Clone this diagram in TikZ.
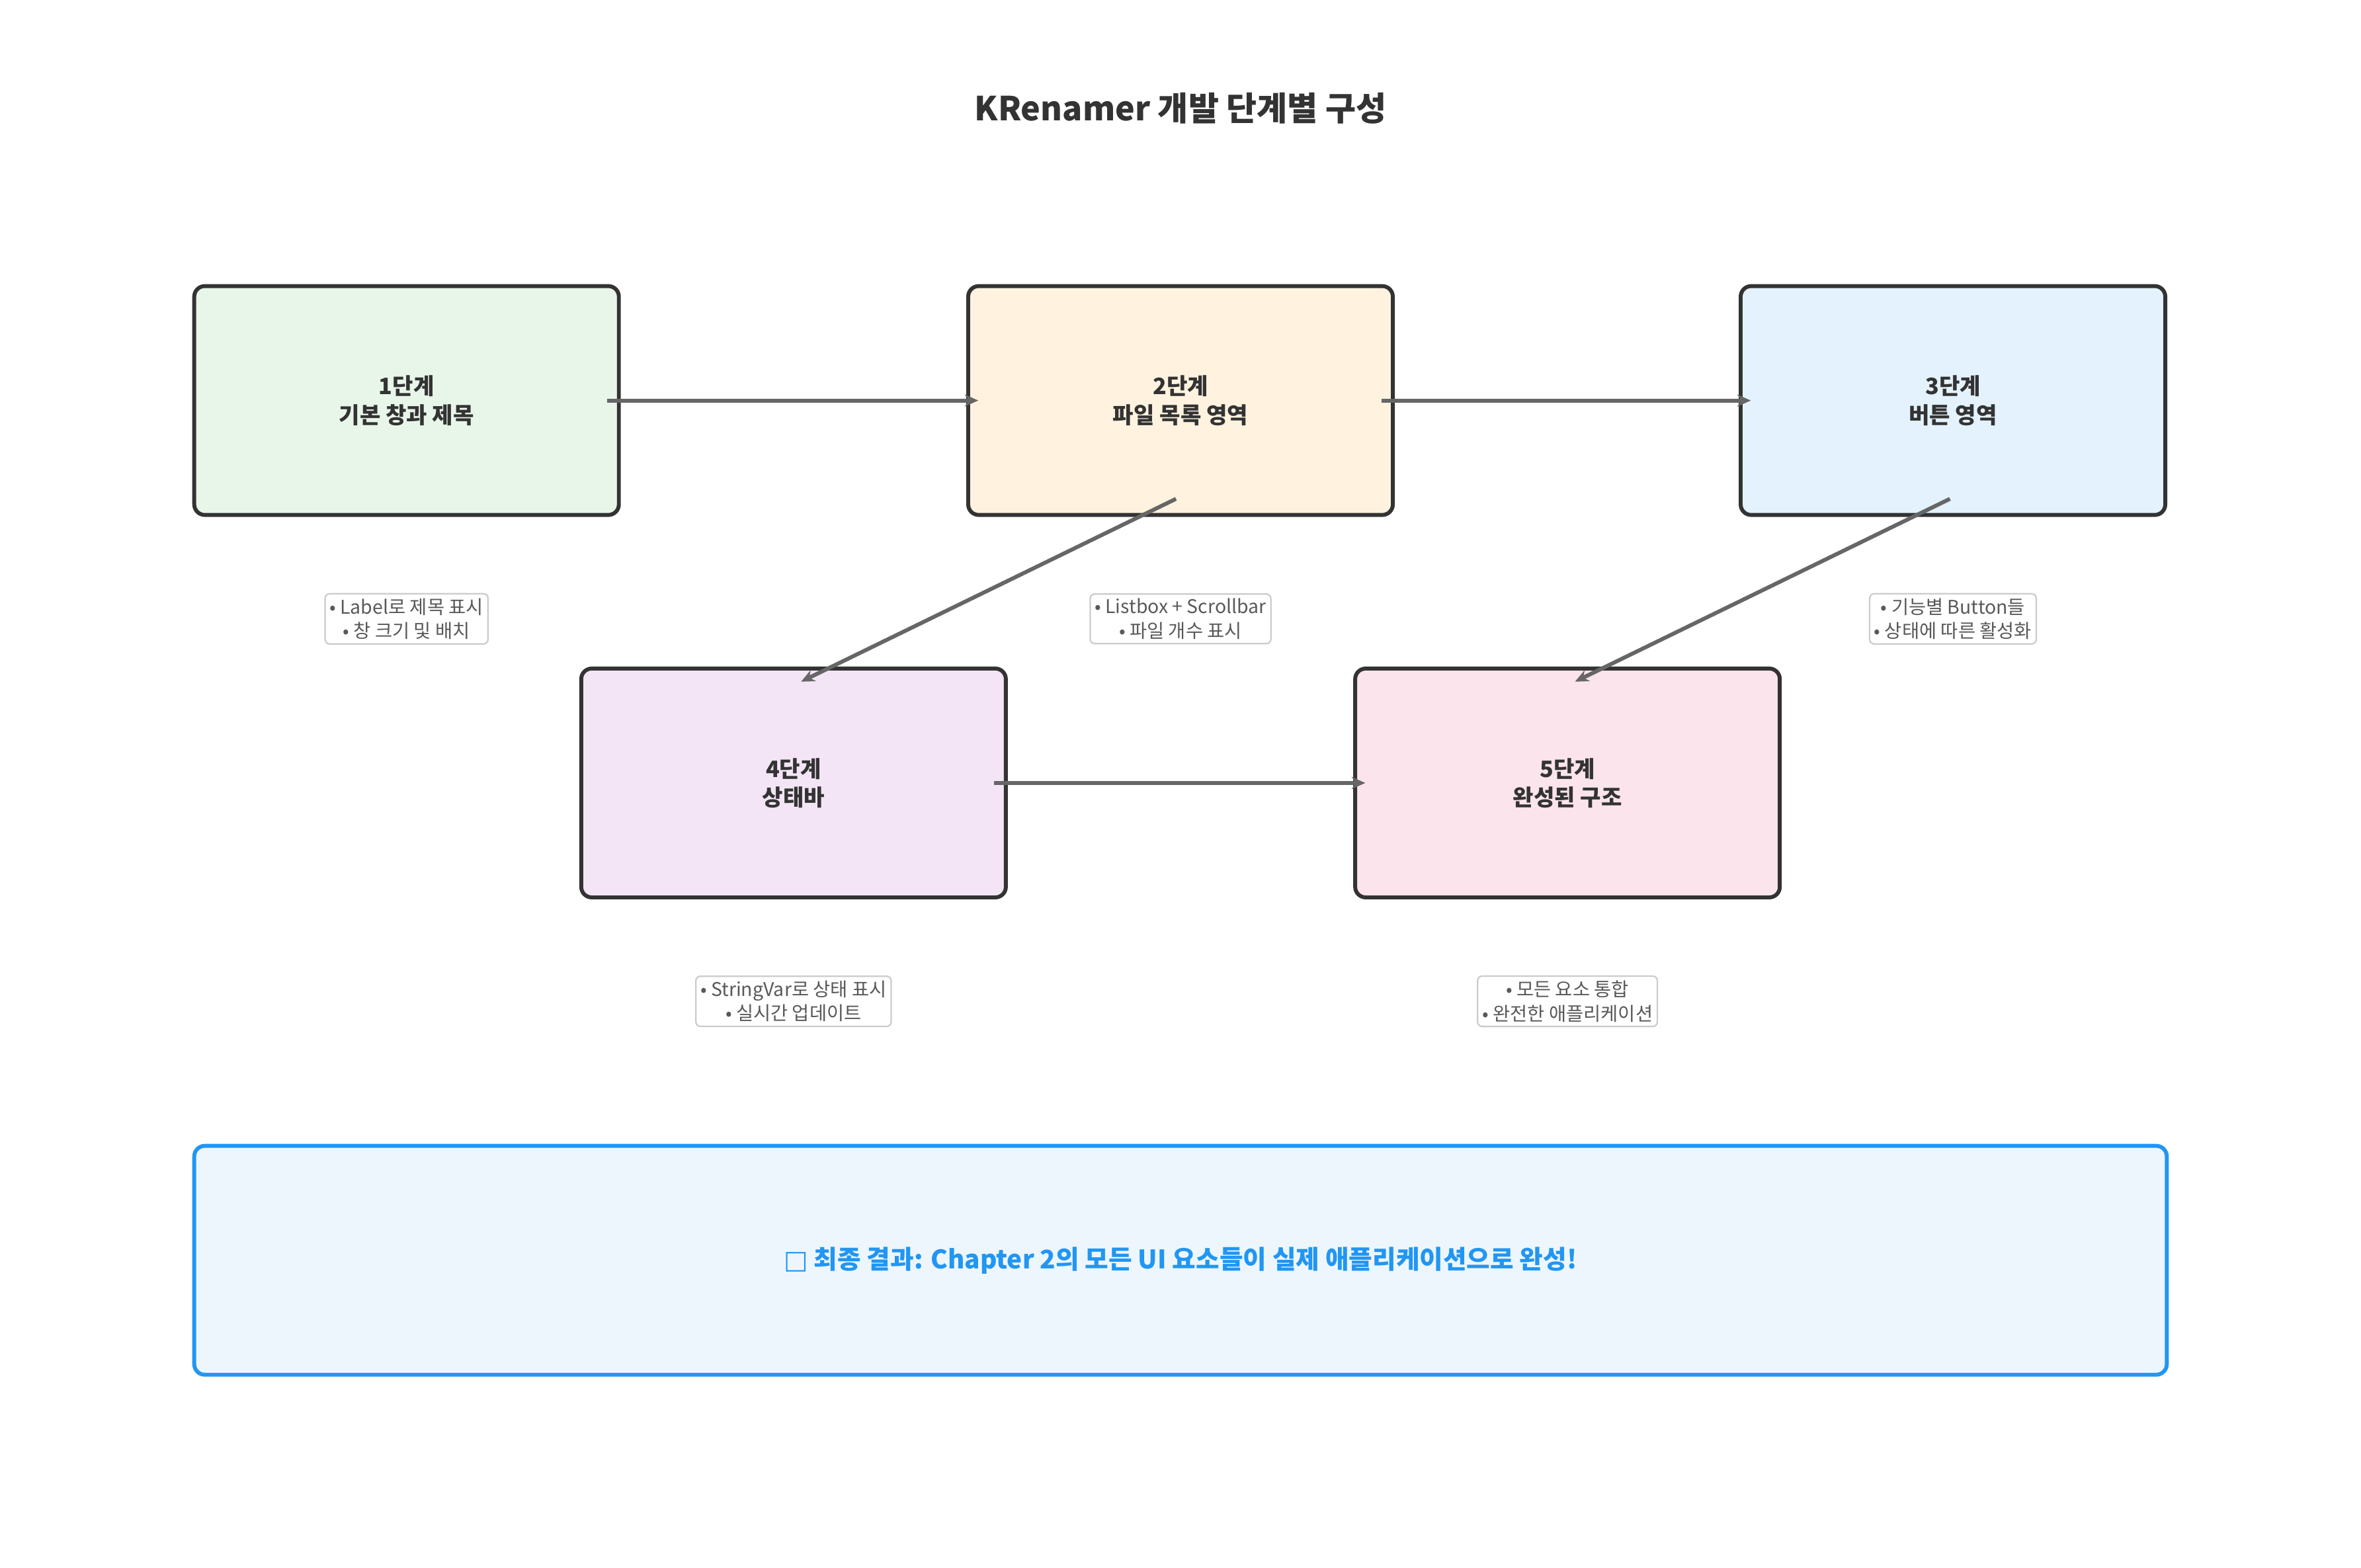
\documentclass[tikz,border=0pt]{standalone}
\usepackage{fontspec}
\setmainfont{Noto Sans CJK KR}
\newfontfamily\djv{DejaVu Sans}
\usetikzlibrary{arrows.meta}
\definecolor{dk}{HTML}{333333}
\definecolor{ar}{HTML}{666666}
\definecolor{bl}{HTML}{2196F3}
\definecolor{f1}{HTML}{E8F5E9}
\definecolor{f2}{HTML}{FFF3E0}
\definecolor{f3}{HTML}{E3F2FD}
\definecolor{f4}{HTML}{F3E5F5}
\definecolor{f5}{HTML}{FCE4EC}
\definecolor{f6}{HTML}{EEF6FD}
\tikzset{
 stage/.style={draw=dk,line width=2.6pt,rounded corners=7pt,minimum width=282pt,minimum height=152pt,align=center,font=\fontsize{15}{19}\selectfont\bfseries,text=dk},
 note/.style={draw=black!20,line width=1pt,rounded corners=3pt,fill=white,align=center,font=\fontsize{12.5}{16}\selectfont,text=black!65,inner sep=3pt},
 conn/.style={draw=ar,line width=2.6pt,-{Stealth[length=9pt,width=8pt]}}
}
\begin{document}
\begin{tikzpicture}[x=1pt,y=-1pt]
\useasboundingbox[fill=white] (0,0) rectangle (1568,1041);
\node[font=\fontsize{22}{26}\selectfont\bfseries,text=dk] (title) at (784,72) {KRenamer 개발 단계별 구성};
\node[stage,fill=f1] (s1) at (270,266) {1단계\\기본 창과 제목};
\node[stage,fill=f2] (s2) at (784,266) {2단계\\파일 목록 영역};
\node[stage,fill=f3] (s3) at (1297,266) {3단계\\버튼 영역};
\node[stage,fill=f4] (s4) at (527,520) {4단계\\상태바};
\node[stage,fill=f5] (s5) at (1041,520) {5단계\\완성된 구조};
\node[note] (n1) at (270,411) {• Label로 제목 표시\\• 창 크기 및 배치};
\node[note] (n2) at (784,411) {• Listbox + Scrollbar\\• 파일 개수 표시};
\node[note] (n3) at (1297,411) {• 기능별 Button들\\• 상태에 따른 활성화};
\node[note] (n4) at (527,665) {• StringVar로 상태 표시\\• 실시간 업데이트};
\node[note] (n5) at (1041,665) {• 모든 요소 통합\\• 완전한 애플리케이션};
\node[draw=bl,line width=2.6pt,rounded corners=7pt,fill=f6,minimum width=1310pt,minimum height=152pt,text=bl,font=\fontsize{17}{21}\selectfont\bfseries] (res) at (784,837) {{\djv □} 최종 결과: Chapter 2의 모든 UI 요소들이 실제 애플리케이션으로 완성!};
\coordinate (a1) at ([xshift=-9pt]s1.east); \coordinate (b1) at ([xshift=8pt]s2.west);
\coordinate (a2) at ([xshift=-9pt]s2.east); \coordinate (b2) at ([xshift=8pt]s3.west);
\coordinate (a3) at ([xshift=-3pt,yshift=12pt]s2.south); \coordinate (b3) at ([xshift=5pt,yshift=-10pt]s4.north);
\coordinate (a4) at ([xshift=-2pt,yshift=12pt]s3.south); \coordinate (b4) at ([xshift=5pt,yshift=-10pt]s5.north);
\coordinate (a5) at ([xshift=-9pt]s4.east); \coordinate (b5) at ([xshift=8pt]s5.west);
\draw[conn] (a1) -- (b1);
\draw[conn] (a2) -- (b2);
\draw[conn] (a3) -- (b3);
\draw[conn] (a4) -- (b4);
\draw[conn] (a5) -- (b5);
\end{tikzpicture}
\end{document}
